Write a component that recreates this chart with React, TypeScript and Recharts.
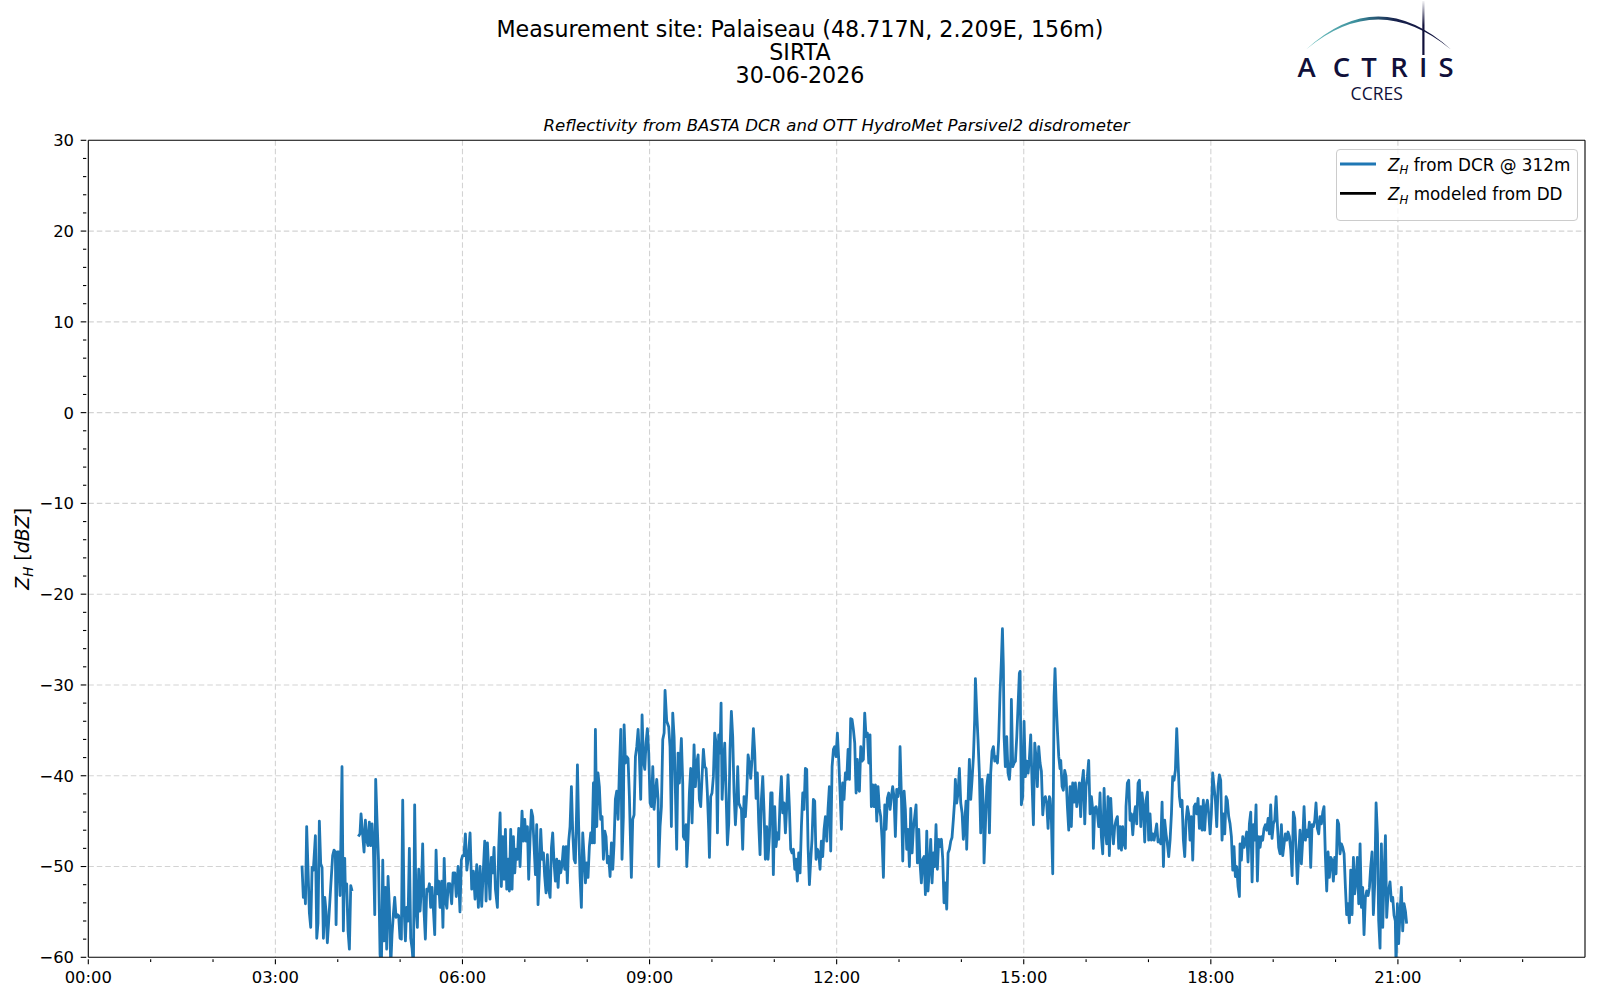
import { LineChart, Line, XAxis, YAxis, CartesianGrid, ReferenceLine, Legend } from 'recharts';

const FONT = '"DejaVu Sans", sans-serif';
const NAVY = '#10103a';

// Sample times, minutes after 00:00 UTC.
const minutesUtc = [
  // 03:25 - 05:38
  205.6, 206.9, 208.2, 208.9, 210.1, 212.7, 214.0, 215.3, 216.5, 218.5,
  219.8, 221.0, 222.3, 223.6, 224.9, 226.2, 227.5, 228.7, 230.0, 231.3,
  233.2, 235.1, 236.4, 237.7, 238.4, 239.6, 240.9, 242.2, 244.1, 245.4,
  246.7, 247.3, 248.6, 249.9, 251.2, 252.5, 253.8, 256.8, 259.8, 261.4,
  262.4, 265.3, 266.6, 267.9, 269.1, 270.4, 271.7, 273.0, 274.3, 275.6,
  276.5, 277.8, 279.2, 280.7, 282.0, 283.3, 284.5, 285.8, 287.1, 288.4,
  289.7, 291.0, 292.2, 293.5, 294.8, 296.1, 297.4, 298.6, 299.9, 301.2,
  302.5, 303.8, 305.1, 306.3, 307.6, 308.9, 310.2, 311.5, 312.8, 314.0,
  315.3, 316.6, 317.9, 319.2, 320.5, 321.7, 323.0, 324.3, 325.6, 326.9,
  328.2, 329.4, 330.7, 332.0, 333.3, 334.6, 335.9, 337.1, 338.4,
  // 05:40 - 06:06
  340.0, 341.2, 342.4, 343.6, 345.0, 346.3, 347.8, 349.6, 351.0, 352.6,
  354.0, 355.8, 357.6, 358.9, 360.1, 361.4, 362.8, 364.2, 365.8,
  // 06:07 - 09:18
  367.3, 368.9, 370.5, 372.1, 373.7, 375.3, 376.9, 378.5, 379.5, 381.4,
  382.7, 384.0, 385.3, 386.5, 387.8, 389.1, 390.4, 391.7, 393.6, 394.9,
  396.2, 397.4, 398.7, 400.0, 401.3, 402.6, 403.9, 405.1, 406.4, 407.7,
  409.0, 410.3, 411.6, 412.8, 414.1, 415.4, 416.7, 417.3, 418.6, 419.9,
  421.2, 422.5, 423.7, 425.0, 426.3, 427.6, 428.9, 430.2, 431.4, 432.7,
  434.0, 435.3, 436.6, 437.9, 439.1, 440.4, 441.7, 443.0, 444.3, 445.6,
  446.8, 448.1, 449.4, 450.7, 452.0, 453.2, 454.5, 455.8, 457.1, 458.4,
  459.7, 460.9, 462.2, 463.5, 464.8, 466.1, 467.4, 468.6, 469.9, 470.6,
  471.8, 473.1, 474.4, 475.7, 477.0, 478.3, 479.5, 480.8, 482.1, 483.4,
  484.7, 486.0, 486.9, 487.9, 489.2, 490.4, 491.7, 493.0, 494.3, 495.6,
  496.9, 498.1, 499.4, 500.7, 502.0, 503.3, 504.6, 505.8, 507.1, 508.4,
  509.7, 511.0, 512.3, 513.5, 514.8, 515.5, 516.8, 518.0, 519.3, 520.6,
  522.5, 523.8, 525.1, 526.4, 527.7, 529.0, 530.2, 531.5, 532.8, 534.1,
  535.4, 536.6, 537.9, 539.2, 540.5, 541.8, 543.1, 544.3, 545.6, 546.9,
  548.2, 548.8, 550.1, 551.4, 552.7, 554.0, 554.9, 556.5, 558.4,
  // 09:19 - 12:21
  559.7, 561.0, 562.3, 563.6, 564.9, 566.1, 567.4, 568.7, 570.0, 570.6,
  571.9, 572.5, 573.8, 575.1, 575.8, 577.0, 578.3, 579.6, 580.9, 582.2,
  582.8, 584.1, 585.4, 586.7, 587.9, 589.2, 590.5, 591.8, 593.1, 594.4,
  595.6, 596.9, 597.6, 598.8, 600.1, 601.4, 602.7, 604.0, 605.3, 606.5,
  607.8, 608.8, 609.8, 611.0, 612.3, 613.6, 614.9, 616.2, 617.4, 618.7,
  620.0, 621.3, 622.6, 623.9, 624.8, 625.8, 627.1, 628.4, 629.6, 630.9,
  632.2, 633.5, 634.8, 636.0, 637.3, 638.6, 639.9, 641.2, 642.5, 643.7,
  645.0, 646.3, 647.6, 648.9, 650.2, 651.4, 652.7, 654.0, 655.3, 656.6,
  657.9, 659.1, 660.4, 661.7, 663.0, 664.3, 665.6, 666.8, 668.1, 669.4,
  670.7, 672.0, 673.2, 674.5, 675.8, 677.1, 678.4, 679.7, 680.9, 682.2,
  683.5, 684.8, 686.1, 687.4, 688.6, 689.9, 691.2, 692.5, 693.8, 695.1,
  696.3, 697.6, 698.9, 700.2, 701.5, 702.8, 704.0, 705.3, 706.6, 707.9,
  709.2, 710.5, 711.7, 713.0, 714.3, 715.6, 716.9, 718.1, 719.4, 720.7,
  722.0, 723.3, 724.6, 725.8, 727.1, 728.4, 729.7, 731.0, 732.3, 733.5,
  734.8, 736.1, 737.4, 738.7, 739.9, 741.2,
  // 12:22 - 15:25
  741.9, 743.2, 744.4, 745.7, 747.0, 748.3, 749.6, 750.9, 752.1, 753.4,
  754.7, 756.0, 757.3, 758.6, 759.8, 761.1, 762.4, 763.7, 765.0, 766.3,
  767.5, 768.8, 770.1, 771.4, 772.7, 773.9, 775.2, 776.5, 777.8, 779.1,
  780.4, 781.0, 782.3, 783.6, 784.9, 786.1, 787.4, 788.7, 790.0, 791.3,
  792.6, 793.8, 795.1, 796.4, 797.7, 799.0, 800.2, 801.5, 802.8, 804.1,
  805.4, 806.7, 807.9, 809.2, 810.5, 811.8, 813.1, 814.4, 815.6, 816.9,
  818.2, 819.5, 820.8, 822.1, 823.3, 824.6, 825.9, 827.2, 828.5, 829.8,
  831.0, 832.3, 833.6, 834.2, 835.5, 836.8, 838.1, 839.4, 840.7, 841.9,
  843.2, 844.5, 845.1, 846.4, 847.7, 849.0, 850.3, 851.6, 852.8, 853.5,
  854.8, 856.0, 857.3, 858.6, 859.9, 861.2, 861.8, 863.1, 864.4, 865.7,
  867.0, 868.2, 869.5, 870.8, 872.1, 873.4, 874.7, 875.9, 877.2, 878.5,
  879.5, 880.4, 881.1, 882.3, 883.6, 884.9, 886.2, 887.5, 888.1, 889.4,
  890.7, 892.0, 893.3, 894.5, 895.8, 896.5, 897.7, 899.0, 900.3, 901.6,
  902.9, 904.2, 905.4, 906.7, 908.0, 909.3, 910.6, 911.9, 913.1, 914.4,
  915.7, 917.0, 918.3, 919.6, 920.8, 922.1, 923.4, 924.7,
  // 15:25 - 18:28
  925.3, 926.6, 927.9, 929.2, 930.1, 931.1, 932.4, 933.7, 934.9, 935.6,
  936.9, 938.1, 939.4, 940.7, 942.0, 943.3, 944.6, 945.8, 947.1, 948.4,
  949.7, 951.0, 952.3, 953.5, 954.8, 956.1, 957.4, 958.7, 959.9, 961.2,
  962.5, 963.8, 965.1, 966.4, 967.0, 968.3, 969.6, 970.9, 972.1, 973.4,
  974.7, 976.0, 977.3, 978.6, 979.8, 981.1, 982.4, 983.7, 985.0, 986.3,
  987.5, 988.8, 990.1, 991.4, 992.7, 994.0, 995.2, 996.5, 997.8, 998.4,
  999.7, 1001.0, 1002.3, 1003.6, 1004.9, 1006.1, 1007.4, 1008.7, 1010.0, 1011.3,
  1012.6, 1013.8, 1015.1, 1016.4, 1017.7, 1019.0, 1020.2, 1021.5, 1022.8, 1024.1,
  1025.4, 1026.7, 1027.9, 1029.2, 1030.5, 1031.8, 1033.1, 1034.4, 1035.6, 1036.9,
  1038.2, 1039.5, 1040.8, 1042.1, 1043.3, 1044.6, 1045.9, 1047.2, 1048.5, 1049.8,
  1051.0, 1052.3, 1053.6, 1054.9, 1056.2, 1057.5, 1058.7, 1060.0, 1061.3, 1062.6,
  1063.9, 1065.2, 1066.4, 1067.7, 1069.0, 1070.3, 1071.6, 1072.8, 1074.1, 1075.4,
  1076.7, 1078.0, 1079.3, 1080.5, 1081.8, 1083.1, 1084.4, 1085.7, 1087.0, 1088.2,
  1089.5, 1090.8, 1092.1, 1093.4, 1094.7, 1095.9, 1097.2, 1098.5, 1099.8, 1101.1,
  1102.3, 1103.6, 1104.9, 1106.2, 1107.5,
  // 18:28 - 21:08
  1108.1, 1109.4, 1110.7, 1112.0, 1113.3, 1114.5, 1115.8, 1117.1, 1118.4, 1119.7,
  1121.0, 1122.2, 1123.5, 1124.8, 1126.1, 1127.4, 1128.6, 1129.9, 1131.2, 1132.5,
  1133.8, 1135.1, 1136.3, 1137.6, 1138.9, 1140.2, 1141.5, 1142.8, 1144.0, 1145.3,
  1146.6, 1147.9, 1149.2, 1150.5, 1151.7, 1153.0, 1154.3, 1155.6, 1156.9, 1158.2,
  1159.4, 1160.7, 1162.0, 1163.3, 1164.6, 1165.8, 1167.1, 1168.4, 1169.7, 1171.0,
  1172.3, 1173.5, 1174.8, 1176.1, 1177.4, 1178.7, 1180.0, 1181.2, 1182.5, 1183.8,
  1185.1, 1186.4, 1187.7, 1188.9, 1190.2, 1191.5, 1192.8, 1194.1, 1195.4, 1196.6,
  1197.9, 1199.2, 1200.5, 1201.8, 1203.0, 1204.3, 1205.6, 1206.9, 1208.2, 1209.5,
  1210.7, 1212.0, 1213.3, 1214.6, 1215.9, 1217.2, 1218.4, 1219.7, 1221.0, 1222.3,
  1223.6, 1224.9, 1226.1, 1227.4, 1228.7, 1230.0, 1231.3, 1232.6, 1233.8, 1235.1,
  1236.4, 1237.7, 1239.0, 1240.3, 1241.5, 1242.8, 1244.1, 1245.4, 1246.7, 1248.0,
  1249.2, 1250.5,
  1252.4, 1253.7, 1255.0, 1256.3, 1257.5, 1258.2, 1259.5, 1260.7, 1262.0, 1263.3,
  1264.6, 1265.9, 1267.2, 1268.4,
];

// Z_H from the DCR at the 312 m gate, dBZ. null = no sample (gap ~04:15).
const zhDcr: (number | null)[] = [
  -49.9, -53.4, -52.5, -54.1, -45.6, -55.1, -56.7, -50.1, -50.4, -46.6,
  -57.9, -56.2, -45.0, -49.7, -50.1, -57.9, -53.4, -54.9, -58.4, -56.0,
  -52.3, -48.8, -48.2, -48.4, -56.4, -48.4, -48.4, -53.2, -39.0, -57.1,
  -49.1, -52.5, -51.9, -57.1, -59.1, -52.1, -52.7, null, -46.7, -46.4,
  -44.2, -48.4, -44.9, -47.1, -47.7, -45.1, -47.7, -45.3, -47.9, -55.3,
  -40.4, -44.9, -49.3, -59.7, -61.0, -49.3, -58.2, -52.3, -59.1, -51.1,
  -54.5, -61.0, -57.5, -55.3, -53.4, -55.6, -55.3, -55.4, -57.9, -58.0,
  -42.7, -54.5, -58.2, -54.5, -56.0, -48.0, -57.9, -59.0, -61.0, -43.2,
  -54.5, -56.7, -50.3, -54.9, -52.3, -47.5, -54.9, -58.0, -52.5, -52.7,
  -51.9, -54.5, -52.3, -54.7, -57.5, -48.2, -53.0, -51.6, -54.5,

  -51.6, -56.7, -49.1, -53.8, -54.6, -51.9, -51.9, -54.1, -50.7, -50.7,
  -53.3, -50.0, -55.0, -49.3, -48.8, -48.8, -46.4, -50.4, -48.8,

  -46.3, -52.5, -50.5, -53.6, -49.8, -54.5, -50.0, -54.4, -51.8, -47.2,
  -53.8, -47.4, -50.7, -53.6, -49.0, -50.7, -47.9, -52.5, -54.5, -47.8,
  -44.1, -52.2, -46.7, -51.4, -45.9, -52.5, -49.2, -52.7, -45.9, -52.5,
  -46.7, -50.7, -48.1, -49.2, -45.8, -50.0, -45.8, -43.9, -47.2, -44.8,
  -47.2, -45.6, -51.4, -47.0, -43.8, -44.5, -47.8, -50.9, -45.4, -54.2,
  -50.7, -45.9, -49.2, -48.5, -51.1, -52.9, -48.7, -52.5, -53.4, -47.9,
  -46.3, -49.6, -51.6, -49.2, -52.3, -49.4, -50.7, -49.8, -47.8, -50.3,
  -47.8, -51.8, -47.2, -45.6, -41.2, -46.3, -49.2, -49.6, -43.4, -38.8,
  -45.6, -51.1, -54.5, -46.3, -48.9, -51.8, -49.6, -51.2, -47.8, -46.3,
  -47.4, -40.8, -47.4, -34.9, -45.6, -39.7, -41.2, -44.8, -44.5, -49.2,
  -46.1, -46.7, -49.6, -48.9, -51.1, -47.4, -50.3, -47.6, -42.6, -41.7,
  -44.8, -39.3, -34.9, -49.2, -44.5, -34.4, -38.6, -37.9, -38.1, -42.3,
  -51.2, -44.8, -44.3, -37.9, -36.8, -34.9, -37.9, -42.6, -33.3, -38.4,
  -39.3, -36.4, -34.8, -37.5, -43.0, -43.4, -39.0, -43.7, -41.9, -40.4,
  -42.6, -50.0, -45.6, -43.4, -36.0, -35.3, -30.6, -34.0, -34.6,

  -36.8, -45.6, -33.1, -35.7, -41.9, -48.1, -37.5, -40.8, -37.3, -35.9,
  -40.8, -46.7, -47.0, -45.4, -50.0, -47.0, -41.9, -39.2, -45.2, -39.3,
  -36.6, -41.2, -38.6, -37.7, -42.6, -43.4, -40.1, -37.1, -39.0, -39.2,
  -41.9, -45.9, -49.0, -42.3, -41.9, -40.1, -35.3, -36.4, -46.3, -35.5,
  -37.5, -32.0, -42.6, -39.3, -36.4, -41.9, -47.6, -45.2, -37.1, -32.9,
  -35.7, -41.9, -45.4, -42.6, -39.0, -43.0, -43.4, -43.7, -48.1, -42.3,
  -44.5, -41.9, -37.7, -38.6, -40.3, -38.2, -34.8, -37.5, -42.5, -39.7,
  -45.2, -48.7, -42.6, -40.1, -44.1, -49.2, -45.6, -49.2, -46.7, -41.9,
  -41.9, -50.9, -43.4, -47.8, -46.3, -47.0, -42.6, -40.1, -44.1, -43.0,
  -46.3, -43.4, -39.9, -43.4, -48.1, -48.5, -48.1, -50.3, -49.2, -51.6,
  -48.5, -50.7, -45.6, -41.9, -43.7, -39.2, -39.3, -47.8, -52.0, -49.2,
  -47.0, -42.6, -42.8, -49.2, -48.1, -48.5, -50.3, -47.2, -48.9, -45.9,
  -44.5, -47.2, -43.7, -41.2, -48.3, -39.0, -37.1, -36.8, -37.9, -35.3,
  -38.2, -41.9, -45.9, -40.8, -42.6, -39.7, -40.4, -37.1, -40.4, -33.7,
  -33.8, -34.9, -36.4, -41.9, -38.2, -41.5,

  -41.7, -36.8, -38.4, -38.2, -33.1, -35.7, -35.3, -38.6, -35.5, -43.4,
  -41.0, -43.4, -41.0, -45.0, -41.2, -43.6, -44.5, -47.0, -51.2, -43.2,
  -45.9, -42.5, -41.9, -43.7, -42.3, -41.2, -42.3, -46.7, -41.5, -42.3,
  -41.2, -36.8, -42.3, -49.4, -41.7, -43.7, -48.1, -45.9, -50.0, -43.6,
  -48.5, -45.9, -44.5, -43.2, -49.6, -45.9, -49.6, -51.8, -49.2, -48.9,
  -53.1, -46.1, -52.7, -50.3, -47.0, -51.8, -48.5, -50.0, -45.4, -50.3,
  -47.0, -47.8, -47.0, -49.2, -54.0, -51.8, -54.7, -48.5, -48.1, -47.2,
  -46.8, -44.8, -42.6, -40.4, -43.0, -41.9, -39.2, -43.0, -44.1, -47.0,
  -45.2, -42.8, -48.1, -43.0, -38.2, -42.6, -40.4, -37.9, -33.8, -29.3,
  -33.1, -36.0, -39.7, -46.3, -40.4, -43.4, -49.6, -45.6, -41.2, -39.9,
  -46.3, -39.7, -37.3, -36.8, -38.4, -37.9, -38.6, -36.0, -30.9, -27.3,
  -23.8, -28.0, -35.7, -39.0, -35.7, -39.7, -40.4, -38.2, -31.6, -39.0,
  -38.6, -38.4, -35.7, -32.4, -28.7, -28.5, -43.2, -42.3, -34.0, -40.1,
  -38.4, -39.7, -38.2, -35.5, -40.8, -45.4, -36.4, -38.1, -41.2, -36.8,
  -38.6, -39.5, -44.3, -42.6, -42.3, -43.0, -45.8, -42.3,

  -42.5, -44.9, -50.8, -31.3, -28.2, -31.7, -35.0, -37.9, -39.2, -38.3,
  -41.2, -41.6, -39.4, -40.1, -43.4, -46.0, -41.2, -45.6, -40.8, -42.9,
  -40.8, -43.4, -42.3, -40.8, -44.5, -40.8, -39.4, -45.3, -41.2, -40.1,
  -38.3, -44.2, -42.3, -43.8, -48.0, -43.6, -43.4, -44.2, -45.6, -41.9,
  -46.7, -48.6, -41.4, -46.0, -47.5, -42.3, -48.8, -42.5, -45.6, -47.5,
  -45.6, -44.9, -44.5, -48.0, -45.6, -48.2, -45.6, -47.5, -48.0, -43.4,
  -40.8, -40.5, -44.9, -44.2, -46.5, -44.5, -43.4, -45.3, -40.8, -40.5,
  -45.6, -41.9, -43.4, -47.3, -42.7, -41.8, -47.1, -44.2, -47.1, -46.4,
  -47.1, -46.2, -45.3, -47.3, -47.1, -47.5, -42.9, -50.0, -44.9, -46.4,
  -47.5, -48.9, -47.1, -44.2, -40.1, -40.5, -39.4, -34.8, -38.6, -42.3,
  -43.4, -42.7, -47.1, -48.9, -44.9, -43.4, -44.2, -47.1, -44.5, -49.3,
  -43.4, -43.1, -44.2, -42.5, -45.8, -43.4, -46.0, -42.7, -46.0, -43.4,
  -42.7, -44.2, -46.4, -44.2, -39.7, -41.2, -42.7, -45.6, -41.2, -39.9,
  -40.5, -47.1, -44.2, -46.4, -42.3, -42.7, -44.5, -45.3, -46.7, -50.4,
  -47.8, -51.1, -50.0, -52.2, -53.3,

  -47.5, -49.3, -46.7, -47.9, -47.1, -46.2, -49.5, -45.3, -44.0, -51.7,
  -45.4, -47.1, -43.2, -51.6, -46.7, -47.9, -46.7, -47.1, -45.8, -45.4,
  -46.0, -44.7, -46.4, -43.2, -46.9, -45.3, -44.9, -42.3, -45.3, -47.9,
  -48.6, -45.4, -48.8, -47.5, -46.4, -47.1, -46.2, -46.7, -48.2, -51.0,
  -44.0, -44.7, -48.2, -51.9, -48.6, -46.0, -49.7, -47.1, -43.4, -47.1,
  -46.0, -46.7, -45.1, -50.1, -45.4, -45.6, -44.9, -43.0, -45.8, -46.4,
  -44.5, -45.3, -44.0, -43.4, -48.8, -52.7, -48.4, -51.2, -49.0, -49.3,
  -51.6, -49.0, -50.8, -44.9, -45.3, -48.6, -47.5, -47.9, -48.6, -52.3,
  -55.3, -54.1, -56.2, -50.4, -55.3, -49.0, -53.0, -51.6, -49.0, -54.1,
  -47.5, -54.5, -52.3, -57.5, -53.4, -52.7, -53.2, -52.3, -50.1, -48.4,
  -55.3, -51.9, -43.0, -46.4, -56.0, -59.0, -47.5, -56.7, -50.8, -46.6,
  -55.6, -53.0,
  -51.7, -53.8, -53.4, -55.4, -56.0, -61.0, -54.1, -58.5, -55.2, -52.3,
  -57.1, -54.1, -54.9, -56.3,
];

// Z_H modeled from the disdrometer DSD: no valid samples this day.
const zhModeled: (number | null)[] = [];

const hourTicks = [
  0, 60, 120, 180, 240, 300, 360, 420, 480, 540, 600, 660,
  720, 780, 840, 900, 960, 1020, 1080, 1140, 1200, 1260, 1320, 1380,
];
const gridMinutes = [180, 360, 540, 720, 900, 1080, 1260];
const dbzTicks = [
  -60, -58, -56, -54, -52, -50, -48, -46, -44, -42, -40, -38, -36, -34, -32,
  -30, -28, -26, -24, -22, -20, -18, -16, -14, -12, -10, -8, -6, -4, -2,
  0, 2, 4, 6, 8, 10, 12, 14, 16, 18, 20, 22, 24, 26, 28, 30,
];
const gridDbz = [-50, -40, -30, -20, -10, 0, 10, 20];

const rows = minutesUtc.map((t, i) => ({ t, dcr: zhDcr[i], dd: zhModeled[i] ?? null }));

// matplotlib-style ticks: major every 3 h with a label, minor every hour
function HourTick({ x, y, payload }: any) {
  const v = payload.value as number;
  const major = v % 180 === 0;
  return (
    <g>
      <line x1={x} x2={x} y1={y} y2={y + (major ? 4.9 : 2.8)} stroke="#000" strokeWidth={1.1} />
      {major && (
        <text x={x} y={y + 23.6} textAnchor="middle" fontSize={16.4} fontFamily={FONT} fill="#000">
          {String(v / 60).padStart(2, '0')}:00
        </text>
      )}
    </g>
  );
}

function DbzTick({ x, y, payload }: any) {
  const v = payload.value as number;
  const major = v % 10 === 0;
  return (
    <g>
      <line x1={x - (major ? 5.6 : 3.3)} x2={x} y1={y} y2={y} stroke="#000" strokeWidth={1.1} />
      {major && (
        <text x={x - 12.3} y={y} dy="0.36em" textAnchor="end" fontSize={16.4} fontFamily={FONT} fill="#000">
          {v < 0 ? '\u2212' + Math.abs(v) : String(v)}
        </text>
      )}
    </g>
  );
}

function YTitle(props: any) {
  const vb = props.viewBox ?? { x: 28.3, y: 140.3, width: 60, height: 817 };
  const cx = vb.x + 1.2;
  const cy = vb.y + vb.height / 2;
  return (
    <text transform={`rotate(-90 ${cx} ${cy})`} x={cx} y={cy} textAnchor="middle" fontSize={19} fontFamily={FONT} fill="#000">
      <tspan fontStyle="italic">Z</tspan>
      <tspan fontStyle="italic" fontSize={13.3} dy={4}>H</tspan>
      <tspan dy={-4}>{' ['}</tspan>
      <tspan fontStyle="italic">dBZ</tspan>
      <tspan>]</tspan>
    </text>
  );
}

function LegendBox({ payload }: any) {
  const items = (payload ?? []) as any[];
  return (
    <svg width={242} height={72} style={{ display: 'block', overflow: 'visible' }}>
      <rect x={0.5} y={0.5} width={241} height={71} rx={3.5} fill="#fff" fillOpacity={0.8} stroke="#cccccc" />
      {items.map((it, i) => (
        <g key={i}>
          <line x1={4} x2={40} y1={15 + i * 29.3} y2={15 + i * 29.3} stroke={it.color} strokeWidth={2.8} />
          <text x={52} y={21.7 + i * 29.3} fontSize={16.8} fontFamily={FONT} fill="#000">
            <tspan fontStyle="italic">Z</tspan>
            <tspan fontStyle="italic" fontSize={11.8} dy={3.5}>H</tspan>
            <tspan dy={-3.5}>{' ' + it.value}</tspan>
          </text>
        </g>
      ))}
    </svg>
  );
}

function Header() {
  return (
    <svg width={1600} height={1000} style={{ position: 'absolute', left: 0, top: 0, pointerEvents: 'none' }}>
      <defs>
        <linearGradient id="arcGrad" gradientUnits="userSpaceOnUse" x1={1306} y1={0} x2={1451} y2={0}>
          <stop offset="0" stopColor="#74c6c2" />
          <stop offset="0.35" stopColor="#3b8e9c" />
          <stop offset="0.62" stopColor="#17214c" />
          <stop offset="1" stopColor={NAVY} />
        </linearGradient>
        <linearGradient id="mastGrad" gradientUnits="userSpaceOnUse" x1={0} y1={1} x2={0} y2={55}>
          <stop offset="0" stopColor={NAVY} stopOpacity={0.05} />
          <stop offset="0.45" stopColor={NAVY} stopOpacity={1} />
          <stop offset="1" stopColor={NAVY} stopOpacity={1} />
        </linearGradient>
      </defs>
      <g fontFamily={FONT} fill="#000" textAnchor="middle">
        <text x={800} y={36.6} fontSize={22.2}>Measurement site: Palaiseau (48.717N, 2.209E, 156m)</text>
        <text x={800} y={60} fontSize={22.2}>SIRTA</text>
        <text x={800} y={82.6} fontSize={22.2}>30-06-2026</text>
        <text x={836.5} y={131} fontSize={16.6} fontStyle="italic">
          Reflectivity from BASTA DCR and OTT HydroMet Parsivel2 disdrometer
        </text>
      </g>
      {/* ACTRIS / CCRES logo */}
      <path d="M1306 49.5 Q1378 -16.5 1451 49.5 Q1378 -10.5 1306 49.5 Z" fill="url(#arcGrad)" />
      <rect x={1422.3} y={1} width={2.2} height={54} fill="url(#mastGrad)" />
      <text
        x="1306.7 1341.5 1369 1399 1423.3 1446"
        y={77.3}
        fontSize={27.5}
        fontWeight={600}
        fontFamily='"Open Sans", sans-serif'
        fill={NAVY}
        textAnchor="middle"
      >
        ACTRIS
      </text>
      <text x={1376.7} y={99.5} fontSize={17.5} fontFamily='"Open Sans", sans-serif' fill={NAVY} textAnchor="middle">
        CCRES
      </text>
    </svg>
  );
}

export default function App() {
  return (
    <div style={{ position: 'absolute', left: 0, top: 0, width: 1600, height: 1000, background: '#fff' }}>
      <LineChart
        width={1600}
        height={1000}
        data={rows}
        margin={{ top: 140.3, right: 15, left: 28.3, bottom: 12.7 }}
      >
        <CartesianGrid
          stroke="#d3d3d3"
          strokeWidth={1.1}
          strokeDasharray="5.5 3"
          horizontalValues={gridDbz}
          verticalValues={gridMinutes}
        />
        <XAxis
          dataKey="t"
          type="number"
          domain={[0, 1440]}
          allowDataOverflow
          ticks={hourTicks}
          interval={0}
          tickSize={0}
          tickLine={false}
          tick={(p: any) => <HourTick {...p} />}
          axisLine={{ stroke: '#000', strokeWidth: 1.1 }}
          height={30}
        />
        <YAxis
          type="number"
          domain={[-60, 30]}
          allowDataOverflow
          ticks={dbzTicks}
          interval={0}
          tickSize={0}
          tickLine={false}
          tick={(p: any) => <DbzTick {...p} />}
          axisLine={{ stroke: '#000', strokeWidth: 1.1 }}
          width={60}
          label={{ content: (p: any) => <YTitle {...p} /> }}
        />
        <Line
          type="linear"
          dataKey="dcr"
          name="from DCR @ 312m"
          stroke="#1f77b4"
          strokeWidth={2.8}
          strokeLinejoin="round"
          dot={false}
          connectNulls={false}
          isAnimationActive={false}
        />
        <Line
          type="linear"
          dataKey="dd"
          name="modeled from DD"
          stroke="#000"
          strokeWidth={2.8}
          dot={false}
          connectNulls={false}
          isAnimationActive={false}
        />
        {/* top and right spines */}
        <ReferenceLine y={30} stroke="#000" strokeWidth={1.1} />
        <ReferenceLine x={1440} stroke="#000" strokeWidth={1.1} />
        <Legend
          layout="horizontal"
          verticalAlign="middle"
          align="center"
          content={(p: any) => <LegendBox {...p} />}
          wrapperStyle={{ left: 1336, top: 149, width: 242, height: 72 }}
        />
      </LineChart>
      <Header />
    </div>
  );
}
